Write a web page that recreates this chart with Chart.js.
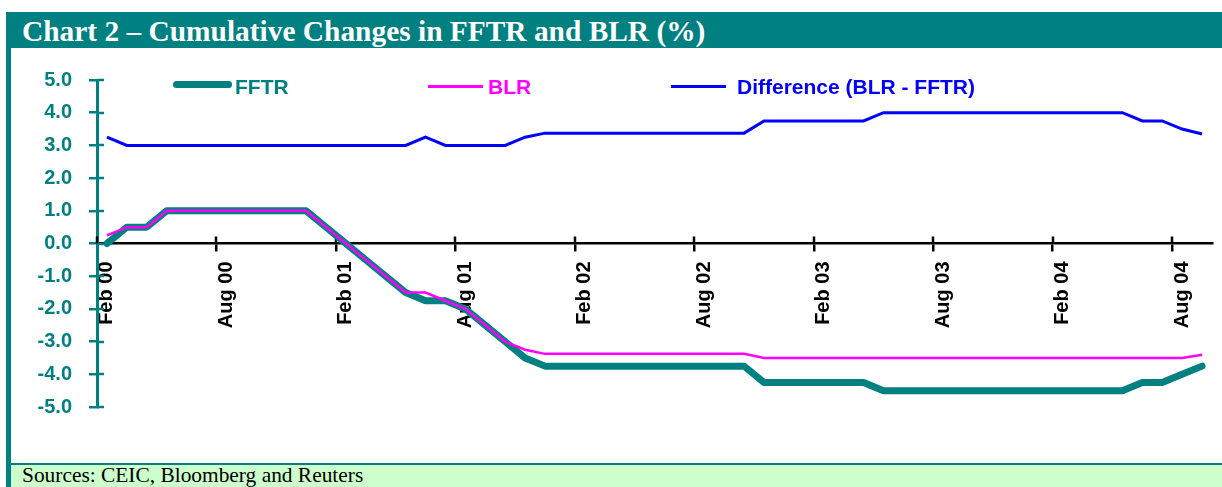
<!DOCTYPE html>
<html lang="en">
<head>
<meta charset="UTF-8">
<title>Chart 2 – Cumulative Changes in FFTR and BLR (%)</title>
<script src="https://cdn.jsdelivr.net/npm/chart.js"></script>
<style>
  body { margin: 0; width: 1222px; height: 487px; position: relative; background: #fff; overflow: hidden;
         font-family: 'Liberation Sans', Arial, sans-serif; }
  .title { position: absolute; left: 6px; top: 12px; width: 1216px; height: 36px; background: #008080; color: #fff;
           font: bold 29.4px 'Liberation Serif', 'Times New Roman', serif; line-height: 38px; padding-left: 16px;
           box-sizing: border-box; white-space: nowrap; }
  .leftbar { position: absolute; left: 6px; top: 48px; width: 5px; height: 439px; background: #008080; }
  .footer { position: absolute; left: 11px; top: 463px; width: 1211px; height: 24px; background: #ccffcc;
            border-top: 2px solid #008080; box-sizing: border-box; font: 21.4px 'Liberation Serif', serif;
            line-height: 20px; padding-left: 11px; overflow: hidden; white-space: nowrap; }
  #wrap { position: absolute; left: 12px; top: 50px; width: 1210px; height: 412px; }
  .lg-line { position: absolute; }
  .lg-text { position: absolute; top: 75px; font: bold 21px 'Liberation Sans', Arial, sans-serif; line-height: 24px; white-space: nowrap; }
</style>
</head>
<body>

<div class="title">Chart 2 – Cumulative Changes in FFTR and BLR (%)</div>
<div class="leftbar"></div>
<div id="wrap"><canvas id="chart"></canvas></div>

<!-- leyenda -->
<div class="lg-line" style="left:173px; top:80.5px; width:59px; height:7px; border-radius:3.5px; background:#008080;"></div>
<div class="lg-text" style="left:235px; color:#008080;">FFTR</div>
<div class="lg-line" style="left:428px; top:85px; width:55px; height:2.5px; background:#ff00ff;"></div>
<div class="lg-text" style="left:488px; color:#ff00ff;">BLR</div>
<div class="lg-line" style="left:671px; top:84.5px; width:55px; height:3px; background:#0000ff;"></div>
<div class="lg-text" style="left:737px; color:#0000ff;">Difference (BLR - FFTR)</div>

<div class="footer">Sources: CEIC, Bloomberg and Reuters</div>

<script>
  /*** DATOS ***/
  const months = [
    'Feb 00','Mar 00','Apr 00','May 00','Jun 00','Jul 00','Aug 00','Sep 00','Oct 00','Nov 00','Dec 00',
    'Jan 01','Feb 01','Mar 01','Apr 01','May 01','Jun 01','Jul 01','Aug 01','Sep 01','Oct 01','Nov 01','Dec 01',
    'Jan 02','Feb 02','Mar 02','Apr 02','May 02','Jun 02','Jul 02','Aug 02','Sep 02','Oct 02','Nov 02','Dec 02',
    'Jan 03','Feb 03','Mar 03','Apr 03','May 03','Jun 03','Jul 03','Aug 03','Sep 03','Oct 03','Nov 03','Dec 03',
    'Jan 04','Feb 04','Mar 04','Apr 04','May 04','Jun 04','Jul 04','Aug 04','Sep 04'
  ];

  const fftr = [
    0, 0.5, 0.5, 1, 1, 1, 1, 1, 1, 1, 1,
    0.5, 0, -0.5, -1, -1.5, -1.75, -1.75, -2, -2.5, -3, -3.5, -3.75,
    -3.75, -3.75, -3.75, -3.75, -3.75, -3.75, -3.75, -3.75, -3.75, -3.75, -4.25, -4.25,
    -4.25, -4.25, -4.25, -4.25, -4.5, -4.5, -4.5, -4.5, -4.5, -4.5, -4.5, -4.5,
    -4.5, -4.5, -4.5, -4.5, -4.5, -4.25, -4.25, -4, -3.75
  ];

  const blr = [
    0.25, 0.5, 0.5, 1, 1, 1, 1, 1, 1, 1, 1,
    0.5, 0, -0.5, -1, -1.5, -1.5, -1.75, -2, -2.5, -3, -3.25, -3.375,
    -3.375, -3.375, -3.375, -3.375, -3.375, -3.375, -3.375, -3.375, -3.375, -3.375, -3.5, -3.5,
    -3.5, -3.5, -3.5, -3.5, -3.5, -3.5, -3.5, -3.5, -3.5, -3.5, -3.5, -3.5,
    -3.5, -3.5, -3.5, -3.5, -3.5, -3.5, -3.5, -3.5, -3.4
  ];

  const difference = [
    3.25, 3, 3, 3, 3, 3, 3, 3, 3, 3, 3,
    3, 3, 3, 3, 3, 3.25, 3, 3, 3, 3, 3.25, 3.375,
    3.375, 3.375, 3.375, 3.375, 3.375, 3.375, 3.375, 3.375, 3.375, 3.375, 3.75, 3.75,
    3.75, 3.75, 3.75, 3.75, 4, 4, 4, 4, 4, 4, 4, 4,
    4, 4, 4, 4, 4, 3.75, 3.75, 3.5, 3.35
  ];

  const TEAL = '#008080';
  const LABEL_EVERY = 6; // una etiqueta cada 6 meses

  /*** MARCAS QUE CRUZAN LOS EJES ***/
  const crossTicks = {
    id: 'crossTicks',
    beforeDatasetsDraw(chart) {
      const { ctx, scales: { x, y } } = chart;
      ctx.save();
      ctx.lineWidth = 2.5;
      ctx.strokeStyle = TEAL;
      y.ticks.forEach(t => {
        const py = Math.round(y.getPixelForValue(t.value));
        ctx.beginPath();
        ctx.moveTo(y.right, py);
        ctx.lineTo(y.right + 7, py);
        ctx.stroke();
      });
      const y0 = y.getPixelForValue(0);
      const w = (x.right - x.left) / months.length;
      ctx.strokeStyle = 'black';
      for (let i = 0; i < months.length; i += LABEL_EVERY) {
        const px = Math.round(x.left + i * w);
        ctx.beginPath();
        ctx.moveTo(px, y0);
        ctx.lineTo(px, y0 - 7);
        ctx.stroke();
      }
      ctx.restore();
    }
  };

  Chart.defaults.font.family = "'Liberation Sans', Arial, sans-serif";

  new Chart(document.getElementById('chart'), {
    type: 'line',
    data: {
      labels: months,
      datasets: [
        { label: 'FFTR', data: fftr, borderColor: TEAL, borderWidth: 7, borderCapStyle: 'round', borderJoinStyle: 'round', order: 3 },
        { label: 'BLR', data: blr, borderColor: '#ff00ff', borderWidth: 2.5, order: 1 },
        { label: 'Difference (BLR - FFTR)', data: difference, borderColor: '#0000ff', borderWidth: 3, order: 2 }
      ]
    },
    options: {
      responsive: true,
      maintainAspectRatio: false,
      animation: false,
      elements: { point: { radius: 0 }, line: { tension: 0 } },
      layout: { padding: { left: 0, top: 30, right: 10, bottom: 55 } },
      plugins: { legend: { display: false }, tooltip: { enabled: false } },
      scales: {
        x: {
          position: { y: 0 },
          offset: true,
          afterFit(scale) { scale.height = 0; scale.paddingLeft = 0; scale.paddingRight = 0; },
          border: { color: 'black', width: 2.5 },
          grid: {
            offset: true,
            drawOnChartArea: false,
            tickLength: 7,
            lineWidth: 2.5,
            color: ctx => (ctx.index % LABEL_EVERY === 0 ? 'black' : 'rgba(0,0,0,0)')
          },
          ticks: {
            autoSkip: false,
            minRotation: 90,
            maxRotation: 90,
            padding: 11,
            color: 'black',
            font: { size: 20, weight: 'bold' },
            callback: (v, i) => (i % LABEL_EVERY === 0 ? months[i] : '')
          }
        },
        y: {
          min: -5,
          max: 5,
          afterFit(scale) { scale.width = 85; },
          border: { color: TEAL, width: 3 },
          grid: { drawOnChartArea: false, tickLength: 8, lineWidth: 2.5, color: TEAL },
          ticks: {
            stepSize: 1,
            padding: 17,
            color: TEAL,
            font: { size: 20, weight: 'bold' },
            callback: v => v.toFixed(1)
          }
        }
      }
    },
    plugins: [crossTicks]
  });
</script>

</body>
</html>
